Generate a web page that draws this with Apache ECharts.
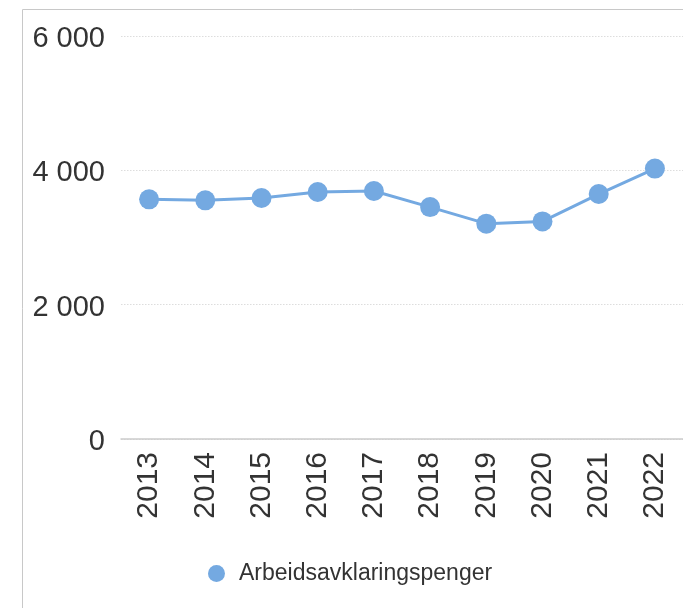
<!DOCTYPE html>
<html><head><meta charset="utf-8">
<script src="https://cdn.jsdelivr.net/npm/echarts@6/dist/echarts.min.js"></script>
<style>html,body{margin:0;padding:0;background:#fff}#c{width:683px;height:608px}</style>
</head><body><div id="c"></div>
<script>
const categories = ['2013','2014','2015','2016','2017','2018','2019','2020','2021','2022'];
const values = [3568, 3553, 3588, 3677, 3692, 3453, 3206, 3240, 3647, 4026];
const seriesName = 'Arbeidsavklaringspenger';
const yTicks = [0, 2000, 4000, 6000];

const chart = echarts.init(document.getElementById('c'), null, {renderer:'canvas'});
const font = 'Liberation Sans, Arial, sans-serif';
chart.setOption({
  animation: false,
  textStyle: {fontFamily: font},
  grid: {left: 121, top: 36, width: 569, height: 403, containLabel: false},
  graphic: [
    {type:'line', shape:{x1:22.5, y1:9.5, x2:683, y2:9.5}, style:{stroke:'#c8c8c8', lineWidth:1}},
    {type:'line', shape:{x1:22.5, y1:9.5, x2:22.5, y2:608}, style:{stroke:'#c8c8c8', lineWidth:1}}
  ],
  legend: {
    data: [seriesName], left: 203, top: 557, icon: 'circle', itemWidth: 17, itemHeight: 17, itemGap: 8,
    textStyle: {fontSize: 23, color: '#333', fontFamily: font, padding: [0, 0, 0, 9]}
  },
  xAxis: {
    type: 'category', data: categories, boundaryGap: true,
    axisLine: {lineStyle: {color: '#cccccc', width: 1.5}},
    axisTick: {alignWithLabel: true, length: 7, lineStyle: {color: '#cccccc', width: 1.5}},
    axisLabel: {rotate: 90, fontSize: 30, color: '#333', margin: 13, fontFamily: font}
  },
  yAxis: {
    type: 'value', min: 0, max: 6000, interval: 2000,
    axisLine: {show: false}, axisTick: {show: false},
    axisLabel: {fontSize: 29, color: '#333', margin: 16, fontFamily: font,
      formatter: v => yTicks.includes(v) ? '{v|' + String(v).replace(/\B(?=(\d{3})+(?!\d))/g, ' ') + '}' : '',
      rich: {v: {fontSize: 29, color: '#333', fontFamily: font, padding: [6, 0, 0, 0]}}},
    splitLine: {lineStyle: {color: '#dddddd', type: [1.5, 1.5], width: 1}}
  },
  series: [{
    name: seriesName, type: 'line', data: values,
    symbol: 'circle', symbolSize: 20,
    itemStyle: {color: '#74a9e1'},
    lineStyle: {color: '#74a9e1', width: 3}
  }]
});
</script></body></html>
